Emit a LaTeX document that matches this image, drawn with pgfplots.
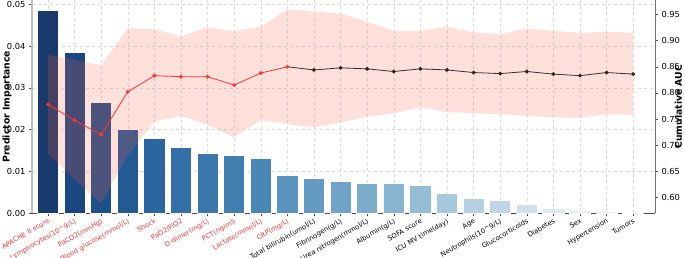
\documentclass[border=0pt]{standalone}
\usepackage{pgfplots}
\pgfplotsset{compat=1.18}
\usepackage{fontspec}
\setmainfont{DejaVu Sans}
\definecolor{labred}{HTML}{FF3333}
\definecolor{tomato}{HTML}{FF6347}
\definecolor{b0}{HTML}{193A6A}
\definecolor{b1}{HTML}{1B4780}
\definecolor{b2}{HTML}{1E5089}
\definecolor{b3}{HTML}{245A94}
\definecolor{b4}{HTML}{2C669F}
\definecolor{b5}{HTML}{346FA7}
\definecolor{b6}{HTML}{3B77AB}
\definecolor{b7}{HTML}{427FB0}
\definecolor{b8}{HTML}{4A87B5}
\definecolor{b9}{HTML}{5A93BD}
\definecolor{b10}{HTML}{659BC2}
\definecolor{b11}{HTML}{70A3C7}
\definecolor{b12}{HTML}{7BACCA}
\definecolor{b13}{HTML}{88B5D0}
\definecolor{b14}{HTML}{95BDD5}
\definecolor{b15}{HTML}{A6C8DD}
\definecolor{b16}{HTML}{B5D0E2}
\definecolor{b17}{HTML}{C0D6E8}
\definecolor{b18}{HTML}{CFDFEE}
\definecolor{b19}{HTML}{DBE7F2}
\definecolor{b20}{HTML}{E2ECF5}
\definecolor{b21}{HTML}{E8F0F7}
\definecolor{b22}{HTML}{EEF4FA}
\pgfplotsset{
  mybar/.style={ybar, bar shift=0pt, bar width=21.3pt, draw=white, line width=0.7pt, fill=#1},
  common/.style={
    scale only axis, width=623pt, height=213.3pt,
    xmin=-0.6, xmax=22.82,
    tick align=outside, major tick length=3pt,
    tick style={black!70, line width=0.5pt},
    /pgf/number format/assume math mode=true,
    scaled y ticks=false,
    yticklabel style={font=\fontsize{8.3}{9}\selectfont, /pgf/number format/fixed, /pgf/number format/fixed zerofill, /pgf/number format/precision=2},
    ylabel style={font=\fontsize{9.3}{10}\selectfont\bfseries},
  }
}
\begin{document}
\begin{tikzpicture}
\begin{axis}[common,
  ymin=0, ymax=0.051,
  ytick={0,0.01,0.02,0.03,0.04,0.05},
  axis x line*=bottom, axis y line*=left,
  axis line style={-},
  x axis line style={black!70, line width=0.8pt},
  y axis line style={black!25, line width=1.4pt},
  xtick={0,...,22},
  grid=major, grid style={dashed, black!15, line width=0.4pt},
  xticklabel style={font=\fontsize{6.8}{7}\selectfont, rotate=30, anchor=north east, inner sep=1.2pt},
  xticklabels={
    {\color{labred}APACHE II score},
    {\color{labred}Lymphocytes(10\textasciicircum9/L)},
    {\color{labred}PaCO2(mmHg)},
    {\color{labred}Blood glucose(mmol/L)},
    {\color{labred}Shock},
    {\color{labred}PaO2/FiO2},
    {\color{labred}D-dimer(mg/L)},
    {\color{labred}PCT(ng/ml)},
    {\color{labred}Lactate(mmol/L)},
    {\color{labred}CRP(mg/L)},
    Total bilirubin(umol/L),
    Fibrinogen(g/L),
    Urea nitrogen(mmol/L),
    Albumin(g/L),
    SOFA score,
    ICU MV time(day),
    Age,
    Neutrophils(10\textasciicircum9/L),
    Glucocorticoids,
    Diabetes,
    Sex,
    Hypertension,
    Tumors},
  ylabel={Predictor Importance},
  ylabel style={at={(axis description cs:-0.0401,0.5)}, anchor=center},
]
\addplot[mybar=b0] coordinates {(0,0.0486)};
\addplot[mybar=b1] coordinates {(1,0.0385)};
\addplot[mybar=b2] coordinates {(2,0.0265)};
\addplot[mybar=b3] coordinates {(3,0.0201)};
\addplot[mybar=b4] coordinates {(4,0.0179)};
\addplot[mybar=b5] coordinates {(5,0.0157)};
\addplot[mybar=b6] coordinates {(6,0.0144)};
\addplot[mybar=b7] coordinates {(7,0.0138)};
\addplot[mybar=b8] coordinates {(8,0.0132)};
\addplot[mybar=b9] coordinates {(9,0.0091)};
\addplot[mybar=b10] coordinates {(10,0.0083)};
\addplot[mybar=b11] coordinates {(11,0.0077)};
\addplot[mybar=b12] coordinates {(12,0.0072)};
\addplot[mybar=b13] coordinates {(13,0.0071)};
\addplot[mybar=b14] coordinates {(14,0.0067)};
\addplot[mybar=b15] coordinates {(15,0.0048)};
\addplot[mybar=b16] coordinates {(16,0.0036)};
\addplot[mybar=b17] coordinates {(17,0.0032)};
\addplot[mybar=b18] coordinates {(18,0.0022)};
\addplot[mybar=b19] coordinates {(19,0.0012)};
\addplot[mybar=b20] coordinates {(20,0.0006)};
\addplot[mybar=b21] coordinates {(21,0.0004)};
\addplot[mybar=b22] coordinates {(22,0.0001)};
\coordinate (BL) at (rel axis cs:0,0);
\coordinate (TR) at (rel axis cs:1,1);
\end{axis}
\begin{axis}[common,
  ymin=0.5693, ymax=0.978,
  ytick={0.60,0.65,0.70,0.75,0.80,0.85,0.90,0.95},
  axis x line=none,
  axis y line*=right,
  axis line style={-},
  y axis line style={black!55, line width=0.8pt},
  ylabel={Cumulative AUC},
  ylabel style={at={(axis description cs:1.0375,0.5)}, anchor=center},
]
\addplot[fill=tomato, fill opacity=0.2, draw=none] coordinates {
(0,0.873)(1,0.863)(2,0.853)(3,0.924)(4,0.922)(5,0.908)(6,0.926)(7,0.918)(8,0.927)(9,0.960)(10,0.956)(11,0.952)(12,0.936)(13,0.919)(14,0.919)(15,0.927)(16,0.916)(17,0.913)(18,0.923)(19,0.919)(20,0.915)(21,0.917)(22,0.915)
(22,0.758)(21,0.759)(20,0.752)(19,0.753)(18,0.756)(17,0.759)(16,0.761)(15,0.763)(14,0.772)(13,0.761)(12,0.754)(11,0.743)(10,0.734)(9,0.740)(8,0.748)(7,0.715)(6,0.739)(5,0.756)(4,0.745)(3,0.681)(2,0.588)(1,0.635)(0,0.683)} -- cycle;
\addplot[black!80, line width=0.8pt, mark=*, mark size=1.5pt, mark options={fill=black!85, draw=black!85}, mark indices={2,...,14}] coordinates {
(9,0.850)(10,0.844)(11,0.848)(12,0.846)(13,0.841)(14,0.846)(15,0.844)(16,0.839)(17,0.837)(18,0.841)(19,0.836)(20,0.833)(21,0.839)(22,0.836)};
\addplot[labred, line width=0.8pt, mark=*, mark size=1.5pt, mark options={fill=labred, draw=labred}] coordinates {
(0,0.778)(1,0.7475)(2,0.720)(3,0.802)(4,0.833)(5,0.831)(6,0.831)(7,0.815)(8,0.838)(9,0.850)};
\end{axis}
\pgfresetboundingbox
\path ([shift={(-32pt,-44.7pt)}]BL) rectangle ([shift={(30pt,0pt)}]TR);
\end{tikzpicture}
\end{document}
